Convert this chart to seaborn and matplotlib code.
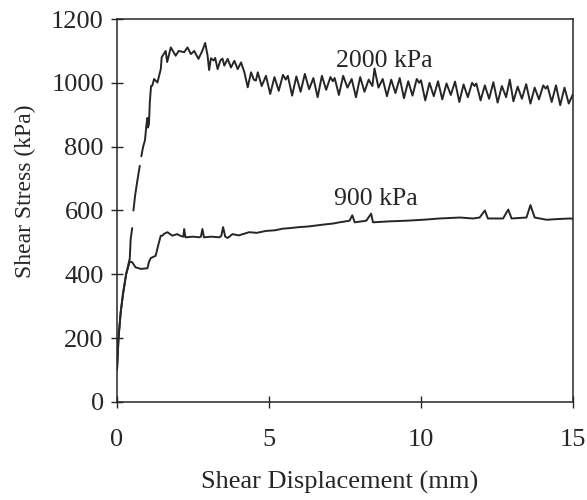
import numpy as np
import pandas as pd
import matplotlib
matplotlib.use("Agg")
import matplotlib.pyplot as plt
import seaborn as sns

# ---------------- data ----------------
x_2000 = [0.0, 0.05, 0.12, 0.20, 0.30, 0.42, 0.45, 0.50,
          0.54, 0.60, 0.68, 0.75,
          0.80, 0.86, 0.92, 0.97, 1.00, 1.02, 1.05, 1.08, 1.12, 1.16, 1.22, 1.33, 1.44, 1.47,
          1.60, 1.65, 1.77, 1.93, 2.03, 2.21, 2.32, 2.43, 2.54, 2.68, 2.81, 2.90, 2.98,
          3.03, 3.09, 3.18, 3.23, 3.31, 3.40, 3.47, 3.53, 3.64, 3.75, 3.86, 3.97, 4.08, 4.19,
          4.30, 4.41, 4.50, 4.57, 4.63, 4.76, 4.90, 5.04, 5.18, 5.32, 5.46, 5.55, 5.62, 5.76,
          5.90, 6.04, 6.18, 6.32, 6.46, 6.60, 6.74, 6.88, 7.02, 7.10, 7.16, 7.30, 7.44, 7.58,
          7.72, 7.86, 8.00, 8.14, 8.28, 8.40, 8.47, 8.60, 8.74, 8.88, 9.02, 9.16, 9.30, 9.44,
          9.58, 9.72, 9.86, 9.94, 10.00, 10.14, 10.28, 10.42, 10.56, 10.70, 10.84, 10.98,
          11.12, 11.26, 11.40, 11.54, 11.68, 11.76, 11.82, 11.96, 12.10, 12.24, 12.38, 12.52,
          12.66, 12.80, 12.92, 13.04, 13.18, 13.32, 13.46, 13.60, 13.74, 13.88, 14.02, 14.10,
          14.16, 14.30, 14.44, 14.58, 14.72, 14.86, 15.00]
y_2000 = [100, 200, 280, 340, 400, 450, 511, 545,
          600, 650, 700, 740,
          770, 800, 820, 870, 890, 860, 870, 940, 990, 991, 1012, 1001, 1043, 1080,
          1100, 1065, 1111, 1085, 1100, 1096, 1111, 1090, 1100, 1075, 1101, 1125, 1085,
          1040, 1077, 1070, 1078, 1043, 1070, 1076, 1054, 1075, 1048, 1069, 1043, 1064, 1033,
          986, 1033, 1010, 1007, 1033, 990, 1022, 965, 1018, 975, 1025, 1010, 1022, 960,
          1020, 972, 1028, 980, 1015, 955, 1022, 978, 1018, 1005, 1015, 962, 1022, 985,
          1012, 955, 1018, 972, 1010, 990, 1045, 985, 1012, 958, 1010, 968, 1015, 952,
          1005, 960, 1012, 1000, 1008, 945, 1000, 958, 1005, 948, 998, 962,
          1004, 940, 995, 955, 1000, 990, 998, 945, 992, 950, 1002, 938,
          990, 955, 1010, 942, 988, 950, 996, 935, 985, 948, 992, 982,
          990, 940, 992, 930, 985, 935, 965]
gaps_2000 = [0.52, 0.78]   # breaks in the traced 2000 kPa line

x_900 = [0.0, 0.05, 0.12, 0.20, 0.30, 0.42, 0.50, 0.61, 0.78, 1.00, 1.05, 1.11, 1.27,
         1.38, 1.44, 1.49, 1.55, 1.66, 1.82, 1.98, 2.10, 2.18, 2.21, 2.25, 2.50, 2.70,
         2.76, 2.81, 2.86, 3.10, 3.36, 3.43, 3.49, 3.56, 3.64, 3.80, 4.00, 4.35, 4.60,
         4.90, 5.20, 5.45, 5.70, 6.00, 6.30, 6.55, 6.80, 7.10, 7.32, 7.65, 7.74, 7.82,
         8.20, 8.36, 8.42, 8.97, 9.52, 10.07, 10.62, 11.28, 11.71, 11.93, 12.10, 12.20,
         12.70, 12.87, 12.98, 13.47, 13.60, 13.74, 14.13, 14.46, 14.90, 15.00]
y_900 = [100, 200, 280, 340, 400, 440, 438, 422, 417, 419, 438, 451, 458,
         500, 521, 521, 527, 532, 521, 526, 520, 518, 542, 516, 518, 516,
         518, 542, 516, 518, 516, 520, 548, 518, 514, 526, 522, 532, 530,
         536, 538, 543, 545, 548, 550, 553, 556, 559, 563, 568, 585, 563,
         568, 590, 563, 566, 568, 571, 575, 578, 575, 578, 600, 575,
         575, 603, 575, 578, 617, 578, 571, 573, 575, 574]

curve_labels = ["2000 kPa", "900 kPa"]
label_pos_x = [7.2, 7.15]
label_pos_y = [1050, 617]

x_ticks = [0, 5, 10, 15]
y_ticks = [0, 200, 400, 600, 800, 1000, 1200]
x_title = "Shear Displacement (mm)"
y_title = "Shear Stress (kPa)"

# ---------------- frame ----------------
seg_2000 = np.searchsorted(gaps_2000, x_2000)
df = pd.concat([
    pd.DataFrame({"x": x_2000, "y": y_2000, "curve": "2000", "seg": ["a%d" % s for s in seg_2000]}),
    pd.DataFrame({"x": x_900, "y": y_900, "curve": "900", "seg": "b0"}),
], ignore_index=True)

sns.set_style("white")
plt.rcParams["font.family"] = ["Liberation Serif", "DejaVu Serif"]
ink = "#262626"

fig = plt.figure(figsize=(5.87, 5.0), dpi=100)
ax = fig.add_axes([117 / 587, 1 - 402 / 500, (573 - 117) / 587, (402 - 19) / 500])

sns.lineplot(data=df, x="x", y="y", units="seg", estimator=None, sort=False,
             color=ink, linewidth=1.4, ax=ax, legend=False)

for t, lx, ly in zip(curve_labels, label_pos_x, label_pos_y):
    ax.text(lx, ly, t, fontsize=18.5, color=ink, ha="left", va="baseline")

ax.set_xlim(0, 15)
ax.set_ylim(0, 1200)
ax.set_xticks(x_ticks)
ax.set_yticks(y_ticks)
ax.set_xticklabels([str(v) for v in x_ticks])
ax.set_yticklabels([str(v) for v in y_ticks])

for s in ax.spines.values():
    s.set_visible(True)
    s.set_color(ink)
    s.set_linewidth(1.1)

ax.tick_params(axis="both", direction="inout", length=9, width=1.0, colors=ink,
               labelsize=19, left=True, bottom=True, top=False, right=False)
ax.tick_params(axis="x", pad=15)
ax.tick_params(axis="y", pad=5)

ax.set_xlabel(x_title, fontsize=19, color=ink)
ax.set_ylabel(y_title, fontsize=17, color=ink)
ax.xaxis.set_label_coords(0.489, -0.18)
ax.yaxis.set_label_coords(-0.178, 0.55)

fig.savefig("out.png", dpi=100, facecolor="white")
